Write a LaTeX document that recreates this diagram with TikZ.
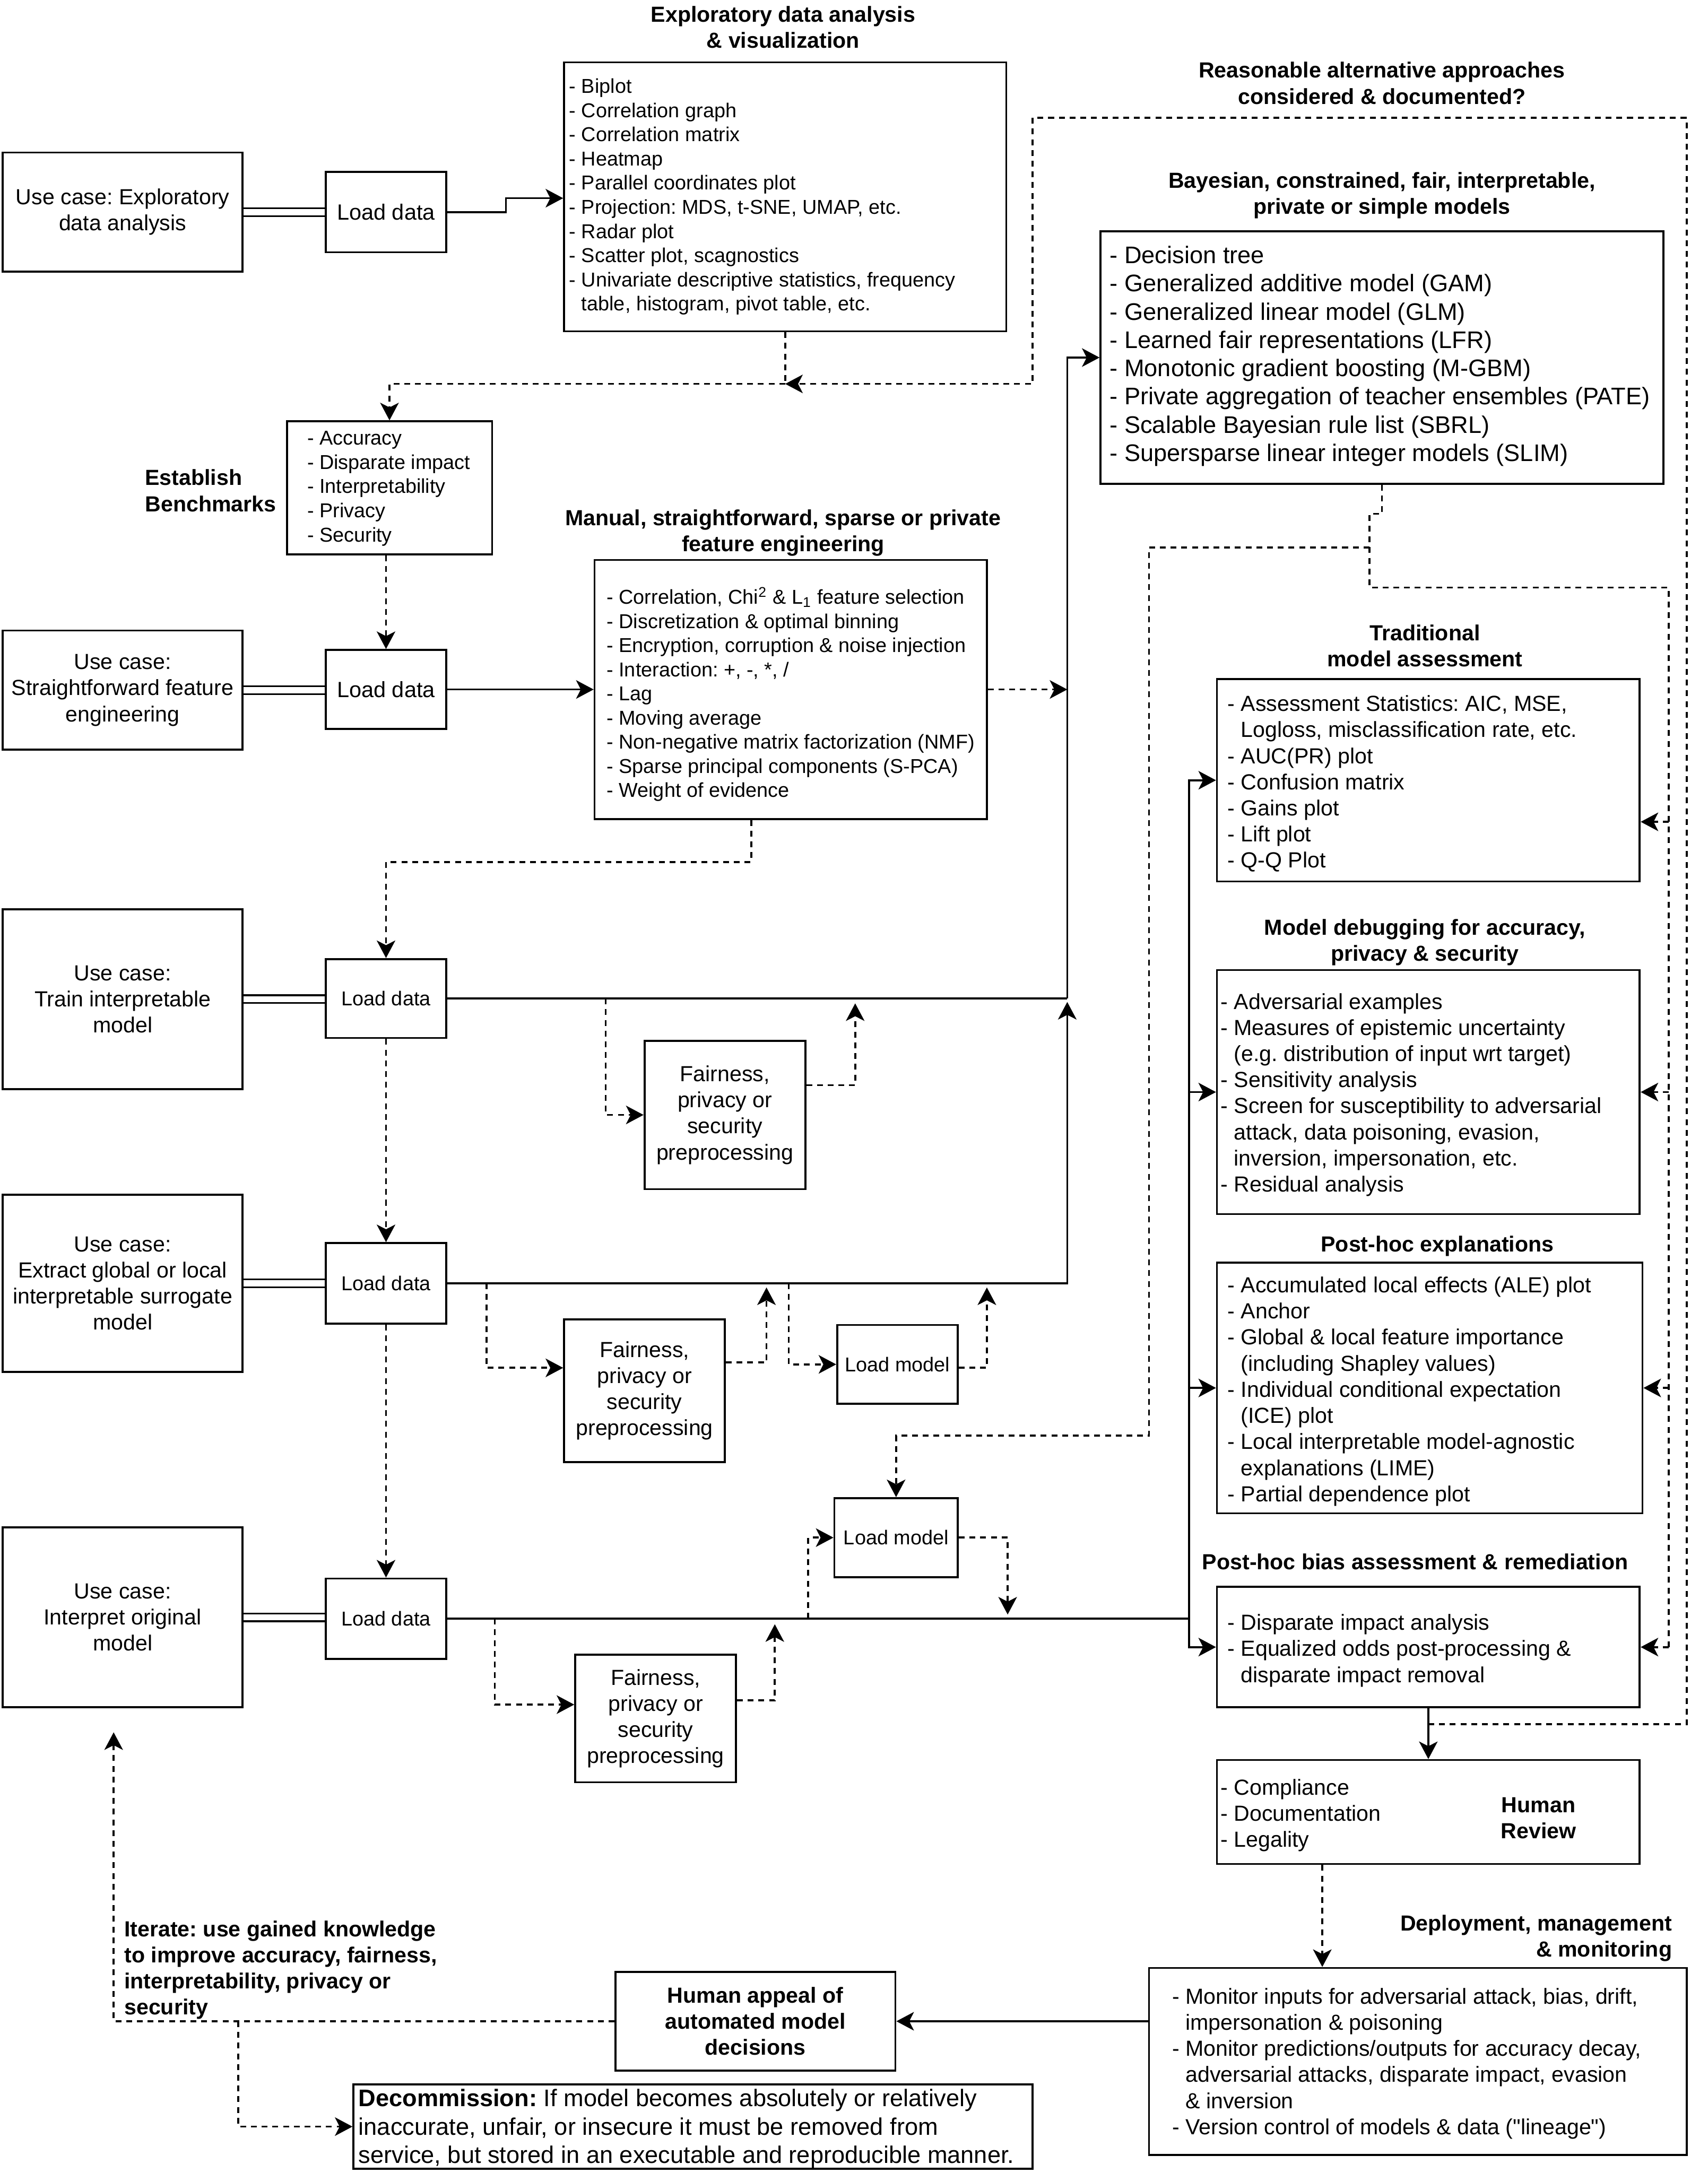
\documentclass[tikz,border=0pt]{standalone}
\usepackage{fontspec}
\setmainfont{Liberation Sans}
\usetikzlibrary{positioning}
\usetikzlibrary{arrows.meta, fit}

\newcommand\fsm{\fontsize{10.3}{12.4}\selectfont}
\newcommand\fmd{\fontsize{11.2}{13.4}\selectfont}
\newcommand\flg{\fontsize{12.3}{14.5}\selectfont}
\newcommand\ind{\hphantom{- }}
\frenchspacing

\begin{document}
\begin{tikzpicture}[
        x = 0.025cm, y = -0.025cm, % one unit per pixel of the sketch
        > = {Stealth[length=9pt, width=9.5pt, inset=2.4pt]}, % arrow head style
        line width = 1pt, % line style
        box/.style = {draw, inner sep=0pt, align=center, font=\fmd},
        sized/.style 2 args = {minimum width=#1*0.025cm, minimum height=#2*0.025cm},
        list/.style = {anchor=west, inner sep=0pt, align=left, font=\fmd},
        head/.style = {inner sep=0pt, align=center, font=\fmd\bfseries},
        broken/.style = {dash pattern=on 3pt off 2.5pt},
        dbl/.style = {double, double distance=3.2pt, line width=0.85pt}
        ]

  \path[use as bounding box, fill=white] (0,0) rectangle (1232,1568);

  % headings
  \node[head] (h-eda) at (565,19.5) {Exploratory data analysis\\\& visualization};
  \node[head] (h-alt) at (997,60) {Reasonable alternative approaches\\considered \& documented?};
  \node[head] (h-bayes) at (997,141) {Bayesian, constrained, fair, interpretable,\\private or simple models};
  \node[head, anchor=west, align=left] (h-bench) at (104,354) {Establish\\Benchmarks};
  \node[head] (h-feat) at (565,384.5) {Manual, straightforward, sparse or private\\feature engineering};
  \node[head] (h-trad) at (1028,466) {Traditional\\model assessment};
  \node[head] (h-debug) at (1028,680) {Model debugging for accuracy,\\privacy \& security};
  \node[head] (h-post) at (1037,899) {Post-hoc explanations};
  \node[head] (h-bias) at (1021,1127) {Post-hoc bias assessment \& remediation};
  \node[head, anchor=east, align=right] (h-deploy) at (1207,1398.5) {Deployment, management\\\& monitoring};
  \node[head, anchor=west, align=left] (h-iter) at (89,1421.5) {Iterate: use gained knowledge\\to improve accuracy, fairness,\\interpretability, privacy or\\security};

  % use cases and load data
  \node[box, sized={173}{86}] (uc1) at (88.5,153) {Use case: Exploratory\\data analysis};
  \node[box, sized={87}{58}, font=\fontsize{11.3}{13.5}\selectfont] (ld1) at (278.5,153) {Load data};
  \node[box, sized={173}{86}] (uc2) at (88.5,498) {Use case:\\Straightforward feature\\engineering};
  \node[box, sized={87}{57}, font=\fontsize{11.3}{13.5}\selectfont] (ld2) at (278.5,497.5) {Load data};
  \node[box, sized={173}{130}] (uc3) at (88.5,721) {Use case:\\Train interpretable\\model};
  \node[box, sized={87}{57}, font=\fsm] (ld3) at (278.5,720.5) {Load data};
  \node[box, sized={173}{128}] (uc4) at (88.5,926) {Use case:\\Extract global or local\\interpretable surrogate\\model};
  \node[box, sized={87}{58}, font=\fsm] (ld4) at (278.5,926) {Load data};
  \node[box, sized={173}{130}] (uc5) at (88.5,1167) {Use case:\\Interpret original\\model};
  \node[box, sized={87}{58}, font=\fsm] (ld5) at (278.5,1168) {Load data};

  % preprocessing and models
  \node[box, sized={116}{107}] (fp1) at (523,804.5) {Fairness,\\privacy or\\security\\preprocessing};
  \node[box, sized={116}{103}] (fp2) at (465,1003.5) {Fairness,\\privacy or\\security\\preprocessing};
  \node[box, sized={116}{92}] (fp3) at (473,1240) {Fairness,\\privacy or\\security\\preprocessing};
  \node[box, sized={87}{57}, font=\fsm] (lm1) at (647.5,984.5) {Load model};
  \node[box, sized={89}{57}, font=\fsm] (lm2) at (646.5,1109.5) {Load model};

  % list boxes
  \node[box, fit={(407,45) (726,239)}] (eda) {};
  \node[list, font=\fsm] (eda-t) at (410,142) {- Biplot\\- Correlation graph\\- Correlation matrix\\- Heatmap\\- Parallel coordinates plot\\- Projection: MDS, t-SNE, UMAP, etc.\\- Radar plot\\- Scatter plot, scagnostics\\- Univariate descriptive statistics, frequency\\\ind table, histogram, pivot table, etc.};

  \node[box, fit={(207,304) (355,400)}] (bench) {};
  \node[list, font=\fsm] (bench-t) at (221,352.5) {- Accuracy\\- Disparate impact\\- Interpretability\\- Privacy\\- Security};

  \node[box, fit={(429,404) (712,591)}] (feat) {};
  \node[list, font=\fsm] (feat-t) at (437,501) {- Correlation, Chi\textsuperscript{2} \& L\textsubscript{1} feature selection\\- Discretization \& optimal binning\\- Encryption, corruption \& noise injection\\- Interaction: +, -, *, /\\- Lag\\- Moving average\\- Non-negative matrix factorization (NMF)\\- Sparse principal components (S-PCA)\\- Weight of evidence};

  \node[box, fit={(794,167) (1200,349)}] (bayes) {};
  \node[list, font=\flg] (bayes-t) at (800,257) {- Decision tree\\- Generalized additive model (GAM)\\- Generalized linear model (GLM)\\- Learned fair representations (LFR)\\- Monotonic gradient boosting (M-GBM)\\- Private aggregation of teacher ensembles (PATE)\\- Scalable Bayesian rule list (SBRL)\\- Supersparse linear integer models (SLIM)};

  \node[box, fit={(878,490) (1183,636)}] (trad) {};
  \node[list] (trad-t) at (885,565.5) {- Assessment Statistics: AIC, MSE,\\\ind Logloss, misclassification rate, etc.\\- AUC(PR) plot\\- Confusion matrix\\- Gains plot\\- Lift plot\\- Q-Q Plot};

  \node[box, fit={(878,700) (1183,876)}] (debug) {};
  \node[list] (debug-t) at (880,790) {- Adversarial examples\\- Measures of epistemic uncertainty\\\ind (e.g. distribution of input wrt target)\\- Sensitivity analysis\\- Screen for susceptibility to adversarial\\\ind attack, data poisoning, evasion,\\\ind inversion, impersonation, etc.\\- Residual analysis};

  \node[box, fit={(878,911) (1185,1092)}] (post) {};
  \node[list] (post-t) at (885,1004) {- Accumulated local effects (ALE) plot\\- Anchor\\- Global \& local feature importance\\\ind (including Shapley values)\\- Individual conditional expectation\\\ind (ICE) plot\\- Local interpretable model-agnostic\\\ind explanations (LIME)\\- Partial dependence plot};

  \node[box, fit={(878,1145) (1183,1232)}] (bias) {};
  \node[list] (bias-t) at (885,1191) {- Disparate impact analysis\\- Equalized odds post-processing \&\\\ind disparate impact removal};

  \node[box, fit={(878,1270) (1183,1345)}] (review) {};
  \node[list] (review-t) at (880,1310) {- Compliance\\- Documentation\\- Legality};
  \node[head] (review-h) at (1110,1312) {Human\\Review};

  \node[box, fit={(829,1420) (1217,1555)}] (deploy) {};
  \node[list] (deploy-t) at (845,1489) {- Monitor inputs for adversarial attack, bias, drift,\\\ind impersonation \& poisoning\\- Monitor predictions/outputs for accuracy decay,\\\ind adversarial attacks, disparate impact, evasion\\\ind \& inversion\\- Version control of models \& data (\textquotedbl lineage\textquotedbl)};

  \node[box, sized={202}{71}, font=\fmd\bfseries] (appeal) at (545,1458.5) {Human appeal of\\automated model\\decisions};

  \node[box, fit={(255,1504) (745,1565)}] (decom) {};
  \node[list, font=\flg] (decom-t) at (258,1536) {\textbf{Decommission:} If model becomes absolutely or relatively\\inaccurate, unfair, or insecure it must be removed from\\service, but stored in an executable and reproducible manner.};

  % exploratory row
  \draw[dbl] (uc1.east) -- (uc1.east -| ld1.west);
  \draw[->] (ld1.east) -| (365,143) -- (eda.west |- 0,143);
  \coordinate (j1) at (eda.south |- 0,277);
  \draw[broken] (eda.south) -- (j1);
  \draw[broken, ->] (j1) -| (bench.north);
  \draw[broken, ->] (bias.south |- 0,1244) -| (1217,85) -| (745,277) -- (j1);
  \draw[broken, ->] (ld2.north |- bench.south) -- (ld2.north);

  % feature engineering row
  \draw[dbl] (uc2.east) -- (uc2.east -| ld2.west);
  \draw[->] (ld2.east) -- (ld2.east -| feat.west);
  \draw[broken, ->] (feat.east) -- (feat.east -| 770,0);
  \draw[broken, ->] (feat.south -| 542,0) -- (542,622) -| (ld3.north);

  % train and surrogate rows
  \draw[dbl] (uc3.east) -- (uc3.east -| ld3.west);
  \draw (ld3.east) -- (ld3.east -| 770,0);
  \draw[->] (ld3.east -| 770,0) |- (bayes.west);
  \draw[broken, ->] (ld3.east -| 437,0) |- (fp1.west);
  \draw[broken, ->] (fp1.east |- 0,783) -| (617,724);
  \draw[broken, ->] (ld3.south) -- (ld4.north);

  \draw[dbl] (uc4.east) -- (uc4.east -| ld4.west);
  \draw[->] (ld4.east) -| (770,723);
  \draw[broken, ->] (ld4.east -| 351,0) |- (fp2.west |- 0,987);
  \draw[broken, ->] (fp2.east |- 0,983) -| (553,929);
  \draw[broken, ->] (ld4.east -| 569,0) |- (lm1.west);
  \draw[broken, ->] (lm1.east |- 0,987) -| (712,929);
  \draw[broken, ->] (ld4.south) -- (ld5.north);

  % interpret original row
  \draw[dbl] (uc5.east) -- (uc5.east -| ld5.west);
  \draw (ld5.east) -- (ld5.east -| 858,0);
  \draw[broken, ->] (ld5.east -| 357,0) |- (fp3.west |- 0,1230);
  \draw[broken, ->] (fp3.east |- 0,1227) -| (559,1172);
  \draw[broken, ->] (ld5.east -| 583,0) |- (lm2.west);
  \draw[broken, ->] (lm2.east) -| (727,1165);

  % assessment boxes
  \draw[->] (ld5.east -| 858,0) |- (trad.west);
  \draw[->] (ld5.east -| 858,0) |- (bias.west);
  \draw[->] (debug.west -| 858,0) -- (debug.west);
  \draw[->] (post.west -| 858,0) -- (post.west);

  \draw[broken] (bayes.south) -- ++(0,21) -| (988,424) -| (1204,1189);
  \draw[broken, ->] (1204,593) -- (trad.east |- 0,593);
  \draw[broken, ->] (debug.east -| 1204,0) -- (debug.east);
  \draw[broken, ->] (post.east -| 1204,0) -- (post.east);
  \draw[broken, ->] (bias.east -| 1204,0) -- (bias.east);
  \draw[broken, ->] (988,395) -| (829,1036) -| (lm2.north);

  % review, deployment and after
  \draw[->] (bias.south) -- (review.north);
  \draw[broken, ->] (review.south -| 954,0) -- (deploy.north -| 954,0);
  \draw[->] (appeal.east -| deploy.west) -- (appeal.east);
  \draw[broken, ->] (appeal.west) -| (82,1250);
  \draw[broken, ->] (appeal.west -| 172,0) |- (decom.west);

\end{tikzpicture}
\end{document}
